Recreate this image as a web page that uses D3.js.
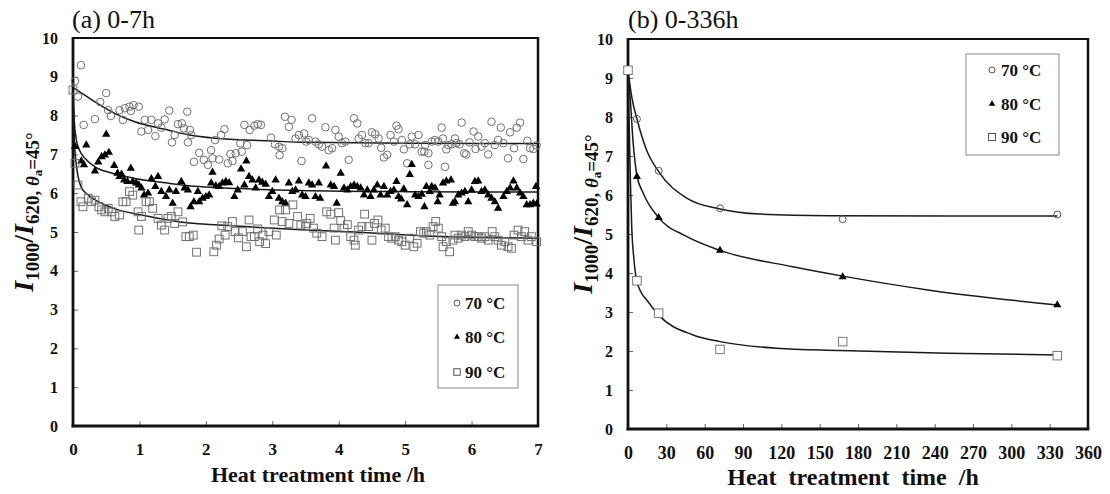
<!DOCTYPE html>
<html>
<head>
<meta charset="utf-8">
<script src="https://cdn.jsdelivr.net/npm/d3@7"></script>
<style>
  html, body { margin: 0; padding: 0; background: #fff; }
  svg { display: block; }
</style>
</head>
<body>
<script>
// ---------- Data: intensity ratio I1000/I620 vs. heat treatment time ----------
const seriesLabels = ["70 °C", "80 °C", "90 °C"];

// (a) 0-7 h, time in hours, [t, ratio]
const short70 = [
  [0.03,8.89],[0.075,8.49],[0.12,9.30],[0.16,7.76],[0.33,7.91],[0.41,8.35],[0.50,8.58],[0.53,8.14],
  [0.57,7.99],[0.70,8.14],[0.75,7.89],[0.78,8.19],[0.85,8.23],[0.87,8.12],[0.91,8.27],[0.99,8.23],
  [1.03,7.59],[1.08,7.89],[1.13,7.63],[1.18,7.89],[1.24,7.47],[1.28,7.80],[1.33,7.69],[1.38,7.90],
  [1.45,8.13],[1.49,7.31],[1.53,7.50],[1.58,7.78],[1.64,7.80],[1.67,7.67],[1.72,8.10],[1.73,7.31],
  [1.76,7.63],[1.78,7.50],[1.82,6.81],[1.90,7.04],[1.97,6.86],[2.03,6.73],[2.08,7.11],[2.10,6.90],
  [2.14,7.37],[2.20,6.87],[2.23,7.50],[2.28,7.65],[2.33,6.77],[2.37,7.01],[2.40,6.83],[2.45,7.03],
  [2.52,7.28],[2.54,7.07],[2.58,7.76],[2.62,7.24],[2.66,7.63],[2.73,7.74],[2.78,7.78],[2.83,7.76],
  [2.98,7.43],[3.04,7.26],[3.10,7.20],[3.11,6.98],[3.15,7.16],[3.19,7.97],[3.25,7.71],[3.29,7.89],
  [3.35,7.41],[3.40,7.50],[3.44,6.83],[3.48,7.54],[3.51,7.33],[3.55,7.37],[3.60,7.93],[3.65,7.33],
  [3.70,7.26],[3.75,7.20],[3.80,7.70],[3.85,7.11],[3.90,7.16],[3.95,7.63],[4.00,7.46],[4.05,7.29],
  [4.10,7.33],[4.15,6.86],[4.23,7.93],[4.28,7.80],[4.30,7.41],[4.35,7.50],[4.40,7.29],[4.45,7.29],
  [4.50,7.57],[4.55,7.52],[4.60,7.41],[4.64,7.17],[4.68,6.92],[4.73,6.99],[4.78,7.50],[4.83,7.33],
  [4.87,7.74],[4.90,7.65],[4.95,7.37],[4.98,7.13],[5.03,6.77],[5.07,7.26],[5.10,7.46],[5.15,7.26],
  [5.20,7.50],[5.25,7.07],[5.29,7.07],[5.30,7.24],[5.35,7.03],[5.35,6.73],[5.40,7.33],[5.45,7.37],
  [5.50,7.33],[5.55,7.69],[5.57,7.41],[5.60,6.68],[5.62,7.13],[5.65,7.24],[5.70,7.26],[5.75,7.41],
  [5.77,7.29],[5.82,7.26],[5.85,7.82],[5.89,7.03],[5.92,7.00],[5.97,7.31],[6.03,7.59],[6.06,7.14],
  [6.10,7.46],[6.15,7.20],[6.20,7.29],[6.25,7.00],[6.30,7.84],[6.35,7.24],[6.40,7.37],[6.44,7.69],
  [6.48,7.29],[6.55,6.90],[6.58,7.57],[6.64,7.16],[6.68,7.69],[6.73,7.82],[6.78,6.88],[6.84,7.35],
  [6.88,7.16],[6.93,7.14],[6.98,7.23]
];
const short80 = [
  [0.03,7.20],[0.125,6.83],[0.165,6.73],[0.20,7.24],[0.33,6.57],[0.38,6.80],[0.43,6.94],[0.48,6.98],
  [0.50,7.52],[0.54,7.05],[0.62,6.71],[0.67,6.51],[0.70,6.43],[0.73,6.49],[0.77,6.34],[0.82,6.30],
  [0.87,6.64],[0.90,6.30],[0.95,6.26],[0.99,6.21],[1.03,6.13],[1.07,5.95],[1.13,6.00],[1.18,6.37],
  [1.24,6.17],[1.28,6.43],[1.33,6.04],[1.40,5.91],[1.45,6.08],[1.50,5.74],[1.55,6.04],[1.63,6.30],
  [1.68,6.13],[1.73,6.08],[1.77,5.65],[1.82,5.78],[1.88,6.04],[1.90,5.78],[1.95,5.87],[2.00,5.91],
  [2.05,5.95],[2.08,6.26],[2.10,6.54],[2.15,6.19],[2.20,6.17],[2.25,6.26],[2.30,6.30],[2.35,6.27],
  [2.43,5.91],[2.48,6.08],[2.53,6.62],[2.58,6.21],[2.61,6.83],[2.65,6.43],[2.70,6.34],[2.75,6.13],
  [2.80,6.34],[2.85,6.28],[2.90,6.23],[2.95,5.91],[3.00,6.04],[3.05,6.34],[3.10,5.87],[3.15,5.78],
  [3.20,5.74],[3.25,6.26],[3.30,6.04],[3.35,6.08],[3.40,6.31],[3.45,5.95],[3.50,5.91],[3.55,6.26],
  [3.60,6.21],[3.65,5.91],[3.70,6.26],[3.72,5.87],[3.81,6.70],[3.88,6.21],[3.93,6.17],[3.97,5.74],
  [4.03,6.51],[4.08,6.13],[4.13,6.08],[4.18,6.17],[4.23,6.21],[4.28,6.17],[4.33,6.13],[4.38,5.95],
  [4.43,6.08],[4.48,5.91],[4.53,6.08],[4.58,6.21],[4.63,5.95],[4.68,6.17],[4.73,5.95],[4.78,6.04],
  [4.83,6.08],[4.87,6.30],[4.90,5.91],[4.94,5.85],[4.98,6.11],[5.03,5.70],[5.07,6.48],[5.10,6.74],
  [5.15,5.95],[5.20,5.91],[5.25,5.97],[5.29,5.65],[5.32,6.17],[5.37,6.04],[5.40,6.17],[5.45,6.13],
  [5.49,5.78],[5.52,5.95],[5.57,6.26],[5.62,6.31],[5.69,6.34],[5.72,5.74],[5.75,5.78],[5.80,5.95],
  [5.85,6.00],[5.90,6.04],[5.95,5.78],[6.00,6.08],[6.05,6.30],[6.10,6.31],[6.15,6.04],[6.20,6.08],
  [6.25,5.95],[6.30,5.87],[6.35,5.78],[6.40,5.61],[6.48,5.91],[6.53,6.04],[6.58,6.13],[6.63,6.31],
  [6.68,6.13],[6.73,6.00],[6.78,5.91],[6.83,5.70],[6.88,5.70],[6.93,5.74],[6.97,6.17],[6.98,5.72]
];
const short90 = [
  [0,8.66],[0.03,6.77],[0.075,6.21],[0.12,5.78],[0.15,5.65],[0.23,5.87],[0.28,5.78],[0.33,5.82],
  [0.39,5.65],[0.43,5.57],[0.48,5.52],[0.53,5.61],[0.58,5.52],[0.63,5.40],[0.70,5.44],[0.75,5.78],
  [0.80,5.78],[0.85,6.04],[0.90,5.95],[0.98,5.52],[0.99,5.05],[1.03,5.40],[1.10,5.78],[1.15,5.78],
  [1.20,5.61],[1.28,5.35],[1.33,5.18],[1.38,5.05],[1.43,5.35],[1.48,5.40],[1.53,5.22],[1.58,5.52],
  [1.65,5.26],[1.70,4.88],[1.75,4.88],[1.81,4.92],[1.86,4.48],[2.12,4.49],[2.16,4.66],[2.20,4.82],
  [2.24,5.16],[2.29,4.92],[2.33,5.14],[2.40,5.27],[2.44,5.01],[2.49,4.85],[2.55,5.01],[2.61,4.62],
  [2.65,5.31],[2.68,4.88],[2.73,4.88],[2.78,5.08],[2.81,4.75],[2.86,4.92],[2.90,4.70],[2.95,5.01],
  [3.03,5.31],[3.06,4.92],[3.11,5.57],[3.15,5.27],[3.20,5.57],[3.25,5.22],[3.31,5.70],[3.38,5.40],
  [3.43,5.18],[3.50,5.14],[3.52,5.22],[3.57,5.35],[3.62,5.10],[3.67,4.97],[3.75,4.88],[3.82,5.52],
  [3.88,5.46],[3.93,5.10],[3.95,4.79],[4.00,5.50],[4.03,5.29],[4.08,5.10],[4.13,5.19],[4.18,4.88],
  [4.23,4.79],[4.25,4.66],[4.30,5.05],[4.35,5.14],[4.39,5.46],[4.45,5.14],[4.50,4.79],[4.54,5.22],
  [4.59,5.31],[4.64,5.05],[4.70,5.10],[4.75,4.88],[4.80,4.84],[4.85,4.88],[4.90,4.79],[4.95,4.75],
  [5.00,4.66],[5.07,4.84],[5.13,4.62],[5.18,4.71],[5.23,5.01],[5.28,4.97],[5.32,5.01],[5.37,4.92],
  [5.42,5.14],[5.46,5.27],[5.50,5.10],[5.55,4.88],[5.57,4.62],[5.62,4.75],[5.67,4.49],[5.72,4.79],
  [5.75,4.92],[5.80,4.84],[5.85,4.92],[5.90,4.88],[5.95,5.01],[6.00,4.92],[6.05,4.88],[6.10,4.88],
  [6.15,4.84],[6.20,4.88],[6.25,4.79],[6.31,5.01],[6.35,4.88],[6.40,4.79],[6.45,4.66],[6.50,4.75],
  [6.55,4.62],[6.60,4.58],[6.64,4.92],[6.70,5.05],[6.75,4.88],[6.80,5.01],[6.85,4.79],[6.90,4.88],
  [6.98,4.75]
];

// Fitted decay curves for (a), sampled [t, ratio]
const fitShort70 = [[0,8.72],[0.2,8.50],[0.41,8.27],[0.65,8.04],[0.93,7.84],[1.43,7.63],[1.75,7.50],
  [2.2,7.41],[2.95,7.35],[3.5,7.31],[5,7.29],[7,7.28]];
const fitShort80 = [[0,8.66],[0.02,7.85],[0.05,7.38],[0.1,7.10],[0.18,6.90],[0.33,6.68],[0.58,6.52],
  [0.93,6.38],[1.43,6.26],[1.9,6.17],[2.5,6.12],[3.41,6.07],[5,6.04],[7,6.03]];
const fitShort90 = [[0,8.66],[0.02,7.40],[0.05,6.73],[0.12,6.17],[0.23,5.95],[0.43,5.74],[0.68,5.57],
  [1.03,5.44],[1.43,5.31],[1.75,5.23],[2.2,5.18],[2.95,5.10],[3.5,5.05],[4.23,5.00],[5.29,4.90],[7,4.84]];

// (b) 0-336 h, time in hours, [t, ratio]; the common 0 h value is one square
const long70 = [[7,7.95],[24,6.62],[72,5.66],[168,5.38],[336,5.50]];
const long80 = [[7,6.47],[24,5.42],[72,4.58],[168,3.90],[336,3.18]];
const long90 = [[0,9.2],[7,3.80],[24,2.97],[72,2.04],[168,2.24],[336,1.88]];

// Fitted decay curves for (b), sampled [t, ratio]
const fitLong70 = [[0,9.2],[3,8.50],[7,7.95],[14.6,7.15],[24,6.60],[46,5.92],[72,5.64],[103,5.51],
  [158,5.47],[250,5.46],[336,5.46]];
const fitLong80 = [[0,9.2],[2,8.35],[4,7.35],[5.5,6.85],[7,6.50],[12,6.04],[24,5.42],[45,4.95],
  [72,4.58],[129,4.16],[168,3.92],[236,3.56],[336,3.18]];
const fitLong90 = [[0,9.2],[1,7.70],[2,6.20],[3,5.10],[4.5,4.40],[6.5,3.85],[10,3.52],[14.6,3.31],
  [24,2.92],[51,2.41],[72,2.24],[116,2.07],[166,2.01],[250,1.94],[336,1.90]];

const yTicks = [0,1,2,3,4,5,6,7,8,9,10];
const xTicksShort = [0,1,2,3,4,5,6,7];
const xTicksLong = [0,30,60,90,120,150,180,210,240,270,300,330,360];

// ---------- Drawing ----------
const SERIF = "'Liberation Serif','Times New Roman',Times,serif";
const W = 1110, H = 494;
const svg = d3.select("body").append("svg").attr("width", W).attr("height", H)
  .attr("font-family", SERIF);

function marker(g, kind, x, y, s) {
  if (kind === "circle") {
    g.append("circle").attr("cx", x).attr("cy", y).attr("r", s.r)
      .attr("fill", "none").attr("stroke", s.circleStroke).attr("stroke-width", 1);
  } else if (kind === "triangle") {
    g.append("path").attr("d", d3.symbol(d3.symbolTriangle, s.tri)())
      .attr("transform", `translate(${x},${y})`).attr("fill", "#000");
  } else {
    const h = s.sq / 2;
    g.append("rect").attr("x", x - h).attr("y", y - h).attr("width", s.sq).attr("height", s.sq)
      .attr("fill", s.squareFill || "none").attr("stroke", s.squareStroke).attr("stroke-width", 1);
  }
}

function yTitle(x, y) {
  const t = svg.append("text")
    .attr("transform", `translate(${x},${y}) rotate(-90)`)
    .attr("text-anchor", "middle").attr("font-weight", "bold").attr("fill", "#111");
  t.append("tspan").attr("font-style", "italic").attr("font-size", 28).text("I");
  t.append("tspan").attr("font-size", 19).attr("dy", 6).text("1000");
  t.append("tspan").attr("font-size", 28).attr("dy", -6).text("/");
  t.append("tspan").attr("font-style", "italic").attr("font-size", 28).text("I");
  t.append("tspan").attr("font-size", 19).attr("dy", 6).text("620, ");
  t.append("tspan").attr("font-size", 19).attr("font-style", "italic").text("θ");
  t.append("tspan").attr("font-size", 13).attr("dy", 3).text("a");
  t.append("tspan").attr("font-size", 19).attr("dy", -3).text("=45°");
}

function panel(cfg) {
  const x = d3.scaleLinear().domain(cfg.xDomain).range([cfg.left, cfg.right]);
  const y = d3.scaleLinear().domain([0, 10]).range([cfg.bottom, cfg.top]);
  const g = svg.append("g");

  // ticks (pointing inward) and labels
  const ax = g.append("g").attr("transform", `translate(0,${cfg.bottom})`)
    .call(d3.axisBottom(x).tickValues(cfg.xTicks).tickSizeInner(-5).tickSizeOuter(0)
      .tickPadding(cfg.xPad).tickFormat(d3.format("d")));
  const ay = g.append("g").attr("transform", `translate(${cfg.left},0)`)
    .call(d3.axisLeft(y).tickValues(yTicks).tickSizeInner(-5).tickSizeOuter(0)
      .tickPadding(15).tickFormat(d3.format("d")));
  [ax, ay].forEach(a => {
    a.select(".domain").remove();
    a.selectAll(".tick line").attr("stroke", "#666").attr("stroke-width", 1);
    a.selectAll(".tick text").attr("font-family", SERIF).attr("font-weight", "bold").attr("fill", "#111");
  });
  ax.selectAll(".tick text").attr("font-size", cfg.xFont);
  ay.selectAll(".tick text").attr("font-size", cfg.yFont);

  // plot frame
  const fr = g.append("g").attr("stroke", "#111").attr("fill", "none");
  fr.append("line").attr("x1", cfg.left).attr("x2", cfg.right).attr("y1", cfg.top).attr("y2", cfg.top).attr("stroke-width", 2);
  fr.append("line").attr("x1", cfg.right).attr("x2", cfg.right).attr("y1", cfg.top - 1).attr("y2", cfg.bottom).attr("stroke-width", 2.5);
  fr.append("line").attr("x1", cfg.left).attr("x2", cfg.left).attr("y1", cfg.top - 1).attr("y2", cfg.bottom + 1.25).attr("stroke-width", 2.8);
  fr.append("line").attr("x1", cfg.left - 1.4).attr("x2", cfg.right + 1.25).attr("y1", cfg.bottom).attr("y2", cfg.bottom).attr("stroke-width", 2.8);

  // fitted curves
  const line = d3.line().x(d => x(d[0])).y(d => y(d[1])).curve(d3.curveMonotoneX);
  cfg.fits.forEach(f => {
    g.append("path").attr("d", line(f)).attr("fill", "none")
      .attr("stroke", "#1a1a1a").attr("stroke-width", 1.5);
  });

  // data markers
  const kinds = ["circle", "triangle", "square"];
  const mg = g.append("g");
  cfg.series.forEach((s, i) => {
    s.forEach(d => marker(mg, kinds[i], x(d[0]), y(d[1]), cfg.mk));
  });

  // legend
  const L = cfg.legend;
  g.append("rect").attr("x", L.x).attr("y", L.y).attr("width", L.w).attr("height", L.h)
    .attr("fill", "#fff").attr("stroke", "#888").attr("stroke-width", 1);
  seriesLabels.forEach((lab, i) => {
    const cy = L.rows[i];
    marker(g, kinds[i], L.sx, cy, cfg.legMk);
    g.append("text").attr("x", L.tx).attr("y", cy + 6).attr("font-size", L.font)
      .attr("font-weight", "bold").attr("fill", "#111").text(lab);
  });

  // titles
  g.append("text").attr("x", cfg.titleX).attr("y", 28).attr("font-size", 26).attr("fill", "#111")
    .text(cfg.title);
  g.append("text").attr("x", cfg.xTitle.x).attr("y", cfg.xTitle.y).attr("text-anchor", "middle")
    .attr("font-size", cfg.xTitle.size).attr("font-weight", "bold").attr("fill", "#111")
    .attr("word-spacing", cfg.xTitle.ws).text("Heat treatment time /h");
}

panel({
  xDomain: [0, 7], xTicks: xTicksShort, left: 73, right: 538, top: 38, bottom: 426,
  xPad: 17, xFont: 17, yFont: 16,
  fits: [fitShort70, fitShort80, fitShort90],
  series: [short70, short80, short90],
  mk: { r: 3.8, tri: 30, sq: 7.8, circleStroke: "#707070", squareStroke: "#707070" },
  legMk: { r: 3, tri: 16, sq: 6.5, circleStroke: "#555", squareStroke: "#555" },
  legend: { x: 438, y: 285, w: 80, h: 103, rows: [303, 337, 372], sx: 457, tx: 465, font: 17 },
  title: "(a) 0-7h", titleX: 72,
  xTitle: { x: 318, y: 482, size: 22, ws: 0 }
});

panel({
  xDomain: [0, 360], xTicks: xTicksLong, left: 628, right: 1088, top: 39, bottom: 429,
  xPad: 17, xFont: 18, yFont: 16,
  fits: [fitLong70, fitLong80, fitLong90],
  series: [long70, long80, long90],
  mk: { r: 3.5, tri: 28, sq: 8.5, circleStroke: "#555", squareStroke: "#777", squareFill: "#fff" },
  legMk: { r: 3, tri: 18, sq: 7, circleStroke: "#555", squareStroke: "#555" },
  legend: { x: 966, y: 54, w: 93, h: 101, rows: [70, 104, 137], sx: 992, tx: 1001, font: 17 },
  title: "(b) 0-336h", titleX: 628,
  xTitle: { x: 853, y: 485, size: 24, ws: 6 }
});

yTitle(33, 212);
yTitle(592, 214);
</script>
</body>
</html>
